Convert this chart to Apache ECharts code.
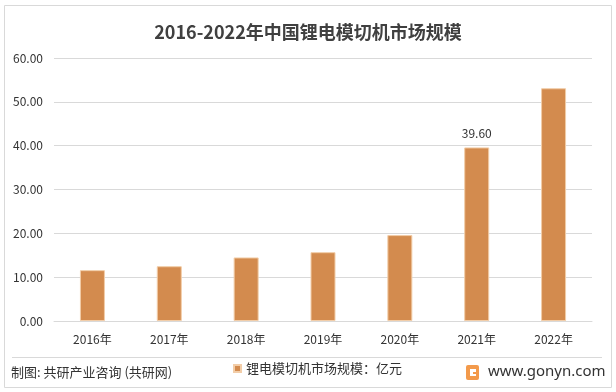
<!DOCTYPE html>
<html><head><meta charset="utf-8">
<script src="https://cdn.jsdelivr.net/npm/echarts@6/dist/echarts.min.js"></script>
<style>html,body{margin:0;padding:0;background:#fff}#c{width:616px;height:392px}</style>
</head><body><div id="c"></div>
<script>
var categories = ['2016年','2017年','2018年','2019年','2020年','2021年','2022年'];
var values = [11.6, 12.5, 14.5, 15.7, 19.6, 39.6, 53.1];
var labeledIndex = [5];
var yTicks = [0, 10, 20, 30, 40, 50, 60];
var seriesName = '锂电模切机市场规模：亿元';
var titleText = '2016-2022年中国锂电模切机市场规模';
var sourceText = '制图: 共研产业咨询 (共研网)';
var siteText = 'www.gonyn.com';

var chart = echarts.init(document.getElementById('c'), null, {renderer:'canvas'});
var font = '"Noto Sans CJK SC","Noto Sans",sans-serif';
var txt = '#333333';
chart.setOption({
  animation:false,
  textStyle:{fontFamily:font},
  title:{text:titleText,left:'center',top:18,textStyle:{fontSize:18,fontWeight:'bold',color:'#404040',fontFamily:font}},
  grid:{left:54,right:24,top:58,bottom:71,containLabel:false},
  legend:{data:[seriesName],left:228,top:357,itemWidth:7,itemHeight:7,icon:'rect',itemGap:4,
    textStyle:{fontSize:13,color:txt,fontFamily:font}},
  xAxis:{type:'category',data:categories,axisTick:{show:false},
    axisLine:{lineStyle:{color:'#d9d9d9'}},
    axisLabel:{fontSize:12,color:txt,margin:12,fontFamily:font}},
  yAxis:{type:'value',min:yTicks[0],max:yTicks[yTicks.length-1],interval:10,
    axisLine:{show:false},axisTick:{show:false},
    splitLine:{lineStyle:{color:'#d9d9d9'}},
    axisLabel:{fontSize:12,color:txt,margin:11,fontFamily:font,formatter:function(v){return v.toFixed(2);}}},
  series:[{name:seriesName,type:'bar',barWidth:25,
    data:values.map(function(v,i){return {value:v,label:{show:labeledIndex.indexOf(i)>=0}};}),
    itemStyle:{color:'#D38B4E',borderColor:'#F2CDA8',borderWidth:1},
    label:{position:'top',distance:8,fontSize:12,color:txt,fontFamily:font,formatter:function(p){return p.value.toFixed(2);}}
  }],
  graphic:[
    {type:'rect',shape:{x:4.5,y:5.5,width:607,height:382},style:{fill:'none',stroke:'#d9d9d9',lineWidth:1},silent:true},
    {type:'line',shape:{x1:12,y1:357.5,x2:602,y2:357.5},style:{stroke:'#d9d9d9',lineWidth:1}},
    {type:'text',left:11,top:366,style:{text:sourceText,fontSize:13,fill:txt,fontFamily:font}},
    {type:'group',left:466,top:364,children:[
      {type:'rect',shape:{x:0,y:1,width:13,height:15,r:2},style:{fill:'#F39A4B'}},
      {type:'rect',shape:{x:4,y:5,width:6,height:7},style:{fill:'#fff'}},
      {type:'rect',shape:{x:7,y:8,width:6,height:2},style:{fill:'#F39A4B'}},
      {type:'text',x:22,y:0,style:{text:siteText,fontSize:15,fill:txt,fontFamily:'"Noto Sans",sans-serif'}}
    ]}
  ]
});
</script></body></html>
